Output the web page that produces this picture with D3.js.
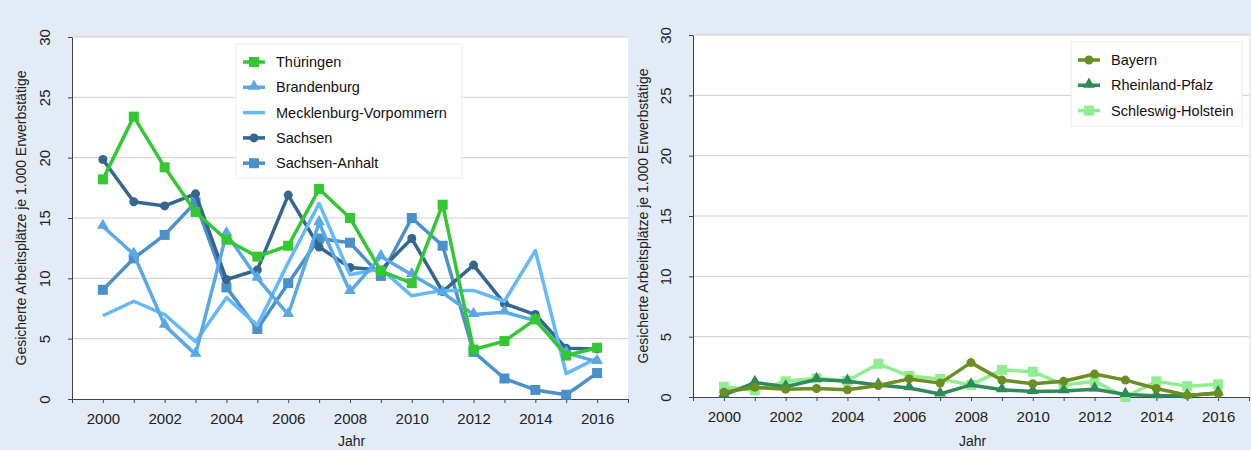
<!DOCTYPE html>
<html>
<head>
<meta charset="utf-8">
<script src="https://cdn.jsdelivr.net/npm/d3@7"></script>
<style>
  body { margin: 0; background: #e3ebf7; }
  svg { display: block; font-family: "Liberation Sans", Arial, sans-serif; }
</style>
</head>
<body>
<svg id="chart" width="1251" height="450"></svg>
<script>
const years = d3.range(2000, 2017);

// left panel
const thueringen = [18.2, 23.4, 19.2, 15.5, 13.2, 11.8, 12.7, 17.4, 15.0, 10.6, 9.6, 16.1, 4.1, 4.8, 6.6, 3.6, 4.25];
const brandenburg = [14.3, 12.0, 6.1, 3.7, 13.7, 10.0, 7.0, 14.6, 8.9, 11.8, 10.3, 8.8, 7.0, 7.2, 6.5, 3.8, 3.1];
const mecklenburg = [6.9, 8.1, 7.0, 4.75, 8.4, 6.1, 11.3, 16.2, 10.3, 10.8, 8.55, 9.0, 9.0, 8.1, 12.3, 2.1, 3.4];
const sachsen = [19.85, 16.35, 16.0, 17.0, 9.9, 10.7, 16.9, 12.6, 10.9, 10.7, 13.3, 8.9, 11.1, 7.9, 7.0, 4.2, 4.15];
const sachsenAnhalt = [9.05, 11.65, 13.6, 16.3, 9.25, 5.8, 9.6, 13.3, 12.95, 10.2, 15.0, 12.7, 3.9, 1.7, 0.75, 0.35, 2.15];

// right panel
const bayern = [0.4, 0.8, 0.65, 0.7, 0.6, 0.95, 1.5, 1.15, 2.85, 1.4, 1.1, 1.3, 1.9, 1.4, 0.7, 0.15, 0.3];
const rheinlandPfalz = [0.15, 1.2, 0.85, 1.45, 1.3, 1.0, 0.75, 0.25, 1.0, 0.6, 0.45, 0.5, 0.65, 0.2, 0.1, 0.1, 0.35];
const schleswigHolstein = [0.85, 0.55, 1.3, 1.55, 1.35, 2.75, 1.75, 1.5, 1.0, 2.25, 2.1, 1.0, 1.3, 0.0, 1.3, 0.9, 1.05];

const yTicks = [0, 5, 10, 15, 20, 25, 30];
const xLabelYears = d3.range(2000, 2017, 2);
const yTitle = 'Gesicherte Arbeitsplätze je 1.000 Erwerbstätige';
const xTitle = 'Jahr';

const svg = d3.select('#chart');

function symbol(g, type, color) {
  if (type === 'square') {
    g.append('rect').attr('x', -5).attr('y', -5).attr('width', 10).attr('height', 10).style('fill', color);
  } else if (type === 'circle') {
    g.append('circle').attr('r', 4.5).style('fill', color);
  } else if (type === 'triangle') {
    g.append('path').attr('d', d3.symbol().type(d3.symbolTriangle).size(60)()).attr('transform', 'translate(0,-1)').style('fill', color);
  }
}

function drawPanel(p) {
  const x = d3.scaleLinear().domain([1999, 2017]).range([p.left, p.right]);
  const y = d3.scaleLinear().domain([0, 30]).range([p.bottom, p.top]);
  const g = svg.append('g');

  g.append('rect')
    .attr('x', p.left).attr('y', p.top)
    .attr('width', p.right - p.left).attr('height', p.bottom - p.top)
    .style('fill', '#fff');

  // grid
  g.selectAll('.grid').data(yTicks.filter(d => d > 0)).enter().append('line')
    .attr('x1', p.left).attr('x2', p.right)
    .attr('y1', d => y(d)).attr('y2', d => y(d))
    .style('stroke', '#cfcfcf').style('stroke-width', 1);

  // y axis
  const ya = g.append('g').attr('transform', 'translate(' + p.left + ',0)')
    .call(d3.axisLeft(y).tickValues(yTicks).tickSize(4).tickSizeOuter(0).tickFormat(d3.format('d')));
  ya.select('.domain').style('stroke', '#444');
  ya.selectAll('.tick line').style('stroke', '#444');
  ya.selectAll('.tick text')
    .attr('x', 0).attr('dy', 0)
    .attr('transform', 'translate(-22,0) rotate(-90)')
    .attr('text-anchor', 'middle')
    .style('font-size', '15px').style('fill', '#222')
    .attr('font-family', null);

  // x axis
  const xa = g.append('g').attr('transform', 'translate(0,' + p.bottom + ')')
    .call(d3.axisBottom(x).tickValues(d3.range(1999, 2018)).tickSize(4).tickSizeOuter(0)
      .tickFormat(d => xLabelYears.includes(d) ? d : ''));
  xa.select('.domain').style('stroke', '#444');
  xa.selectAll('.tick line').style('stroke', '#444');
  xa.selectAll('.tick text').attr('y', 14).style('font-size', '15px').style('fill', '#222').attr('font-family', null);

  g.append('text')
    .attr('transform', 'translate(' + p.titleX + ',' + ((p.top + p.bottom) / 2) + ') rotate(-90)')
    .attr('text-anchor', 'middle').attr('dy', '0.35em')
    .style('font-size', '14px').style('fill', '#222')
    .text(yTitle);

  g.append('text')
    .attr('x', x(2008.05)).attr('y', 446)
    .attr('text-anchor', 'middle')
    .style('font-size', '14px').style('fill', '#222')
    .text(xTitle);

  const line = d3.line().x((d, i) => x(years[i])).y(d => y(d));

  p.series.slice().reverse().forEach(s => {
    const sg = g.append('g');
    sg.append('path').datum(s.values).attr('d', line)
      .style('fill', 'none').style('stroke', s.color).style('stroke-width', 3.5)
      .style('stroke-linejoin', 'round');
    if (s.marker) {
      sg.selectAll('.m').data(s.values).enter().append('g')
        .attr('transform', (d, i) => 'translate(' + x(years[i]) + ',' + y(d) + ')')
        .each(function () { symbol(d3.select(this), s.marker, s.color); });
    }
  });

  // legend
  const lg = g.append('g');
  lg.append('rect')
    .attr('x', p.legend.x).attr('y', p.legend.y)
    .attr('width', p.legend.w).attr('height', p.legend.h)
    .style('fill', '#fff').style('stroke', '#e8eef4');
  const items = lg.selectAll('.item').data(p.series).enter().append('g')
    .attr('transform', (d, i) => 'translate(' + (p.legend.x + 7) + ',' + (p.legend.y + 18 + i * 25.3) + ')');
  items.append('line').attr('x1', 0).attr('x2', 22)
    .style('stroke', d => d.color).style('stroke-width', 3.5);
  items.each(function (d) {
    if (d.marker) {
      const m = d3.select(this).append('g').attr('transform', 'translate(11,0)');
      symbol(m, d.marker, d.color);
    }
  });
  items.append('text').attr('x', 33).attr('dy', '0.35em')
    .style('font-size', '14.5px').style('fill', '#111')
    .text(d => d.name);
}

drawPanel({
  left: 72, right: 628, top: 37, bottom: 399, titleX: 21,
  legend: { x: 236, y: 44, w: 226, h: 134 },
  series: [
    { name: 'Thüringen', values: thueringen, color: '#33c832', marker: 'square' },
    { name: 'Brandenburg', values: brandenburg, color: '#5aa9e6', marker: 'triangle' },
    { name: 'Mecklenburg-Vorpommern', values: mecklenburg, color: '#64b9fa', marker: null },
    { name: 'Sachsen', values: sachsen, color: '#356690', marker: 'circle' },
    { name: 'Sachsen-Anhalt', values: sachsenAnhalt, color: '#4a90cb', marker: 'square' }
  ]
});

drawPanel({
  left: 693, right: 1249, top: 35, bottom: 397, titleX: 643,
  legend: { x: 1071, y: 42, w: 171, h: 84 },
  series: [
    { name: 'Bayern', values: bayern, color: '#6b8e23', marker: 'circle' },
    { name: 'Rheinland-Pfalz', values: rheinlandPfalz, color: '#2e8b57', marker: 'triangle' },
    { name: 'Schleswig-Holstein', values: schleswigHolstein, color: '#90ee90', marker: 'square' }
  ]
});
</script>
</body>
</html>
